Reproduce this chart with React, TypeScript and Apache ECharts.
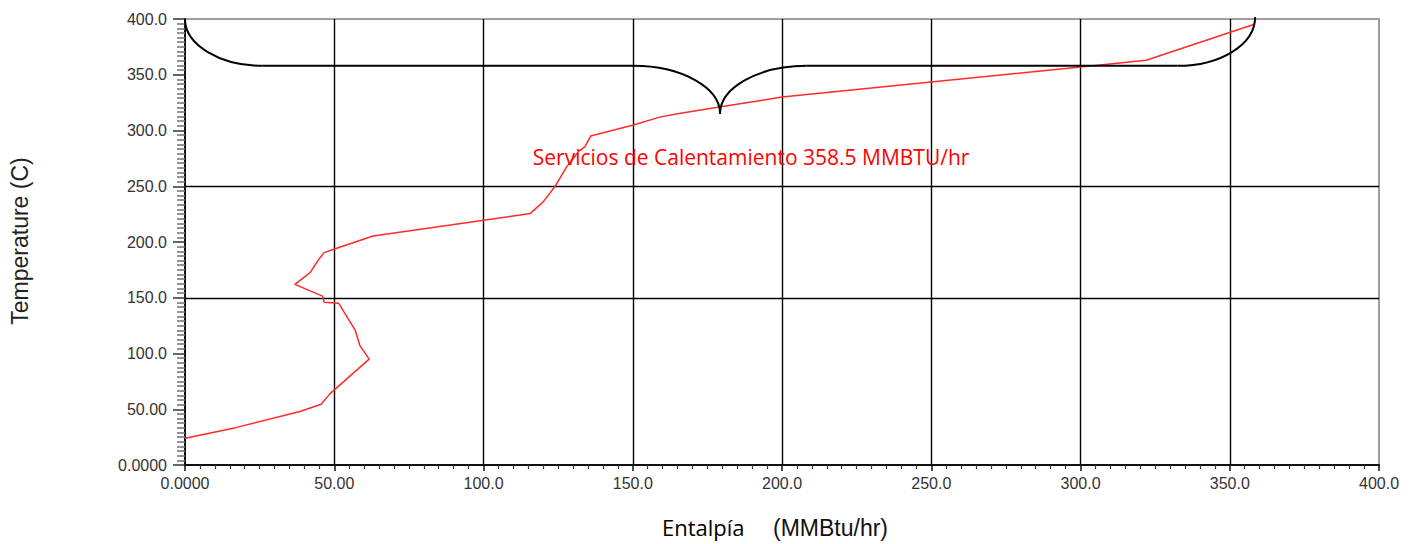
import React, { useEffect, useRef } from "react";
import * as echarts from "echarts";

// Composite curve: enthalpy (MMBtu/hr) against temperature (C)
const enthalpy: number[] = [
  0, 17, 38.5, 45.6, 48.6, 61.7, 58.6, 57, 51.5, 46.6, 46.1, 36.8, 41.9, 44.7,
  46.6, 50.3, 63, 115.6, 120, 124, 127.9, 131.8, 134, 135.9, 150.2, 159, 165,
  179, 200, 300, 322, 358.5,
];
const temperature: number[] = [
  24, 33.5, 48, 54.5, 64, 95, 107, 121, 145, 146, 151.5, 162, 172.5, 184,
  190.5, 194, 205.4, 225.5, 236, 250, 267.6, 281, 285.5, 295, 305, 312, 315,
  321, 330, 357, 363, 395.5,
];

// Heating utility duty, MMBtu/hr
const heatingDuty = 358.5;

const xTicks: number[] = [0, 50, 100, 150, 200, 250, 300, 350, 400];
const yTicks: number[] = [0, 50, 100, 150, 200, 250, 300, 350, 400];
const highlightedTemps: number[] = [150, 250];

const fmt = (v: number): string =>
  v === 0 ? "0.0000" : v < 100 ? v.toFixed(2) : v.toFixed(1);

const TICK_FONT = "'Liberation Sans', Arial, sans-serif";

export default function App() {
  const ref = useRef<HTMLDivElement>(null);

  useEffect(() => {
    if (!ref.current) return;
    const chart = echarts.init(ref.current, undefined, { renderer: "svg" });

    chart.setOption({
      animation: false,
      backgroundColor: "#ffffff",
      grid: {
        left: 185,
        right: 40,
        top: 19,
        bottom: 79,
        show: true,
        borderColor: "#808080",
        borderWidth: 1.5,
        backgroundColor: "transparent",
      },
      xAxis: {
        type: "value",
        min: xTicks[0],
        max: xTicks[xTicks.length - 1],
        interval: 50,
        axisLine: { show: true, onZero: false, lineStyle: { color: "#111", width: 2 } },
        axisTick: { show: true, length: 6, lineStyle: { color: "#111", width: 1.5 } },
        minorTick: { show: true, splitNumber: 10, length: 4, lineStyle: { color: "#333", width: 1.2 } },
        splitLine: {
          show: true,
          showMinLine: false,
          showMaxLine: false,
          lineStyle: { color: "#000", width: 1.4 },
        },
        axisLabel: {
          margin: 10,
          color: "#333",
          fontFamily: TICK_FONT,
          fontSize: 16,
          formatter: (v: number) => fmt(v),
        },
      },
      yAxis: {
        type: "value",
        min: yTicks[0],
        max: yTicks[yTicks.length - 1],
        interval: 50,
        axisLine: { show: true, onZero: false, lineStyle: { color: "#111", width: 2 } },
        axisTick: { show: true, length: 12, lineStyle: { color: "#333", width: 1.5 } },
        minorTick: { show: true, splitNumber: 12, length: 8, lineStyle: { color: "#777", width: 1.6 } },
        splitLine: { show: false },
        axisLabel: {
          margin: 18,
          color: "#333",
          fontFamily: TICK_FONT,
          fontSize: 16,
          formatter: (v: number) => fmt(v),
        },
      },
      series: [
        {
          type: "line",
          data: enthalpy.map((x, i) => [x, temperature[i]]),
          showSymbol: false,
          symbol: "none",
          lineStyle: { color: "#ff2a2a", width: 1.5 },
          z: 5,
          silent: true,
          markLine: {
            silent: true,
            symbol: ["none", "none"],
            label: { show: false },
            lineStyle: { color: "#000", width: 1.4, type: "solid" },
            data: highlightedTemps.map((t) => ({ yAxis: t })),
          },
        },
      ],
    });

    // Curly brace spanning the heating utility, plus labels and axis titles
    const px = (x: number, y: number): number[] =>
      chart.convertToPixel({ xAxisIndex: 0, yAxisIndex: 0 }, [x, y]) as number[];

    const yTop = 400;
    const yBar = 358;
    const yTip = 315;
    const endShoulder = 26;
    const midShoulder = 29;
    const mid = heatingDuty / 2;
    const k = 0.55;

    const pL = px(0, yTop);
    const pLs = px(endShoulder, yBar);
    const pMl = px(mid - midShoulder, yBar);
    const pTip = px(mid, yTip);
    const pMr = px(mid + midShoulder, yBar);
    const pRs = px(heatingDuty - endShoulder, yBar);
    const pR = px(heatingDuty, yTop);
    const barY = pLs[1];

    const braceStyle = { stroke: "#000", lineWidth: 2, fill: "none" };

    const braceParts = [
      {
        type: "bezierCurve",
        shape: {
          x1: pL[0], y1: pL[1],
          cpx1: pL[0], cpy1: pL[1] + k * (barY - pL[1]),
          cpx2: pLs[0] - k * (pLs[0] - pL[0]), cpy2: barY,
          x2: pLs[0], y2: barY,
        },
        style: braceStyle,
      },
      {
        type: "line",
        shape: { x1: pLs[0], y1: barY, x2: pMl[0], y2: barY },
        style: braceStyle,
      },
      {
        type: "bezierCurve",
        shape: {
          x1: pMl[0], y1: barY,
          cpx1: pMl[0] + k * (pTip[0] - pMl[0]), cpy1: barY,
          cpx2: pTip[0], cpy2: pTip[1] - k * (pTip[1] - barY),
          x2: pTip[0], y2: pTip[1],
        },
        style: braceStyle,
      },
      {
        type: "bezierCurve",
        shape: {
          x1: pTip[0], y1: pTip[1],
          cpx1: pTip[0], cpy1: pTip[1] - k * (pTip[1] - barY),
          cpx2: pMr[0] - k * (pMr[0] - pTip[0]), cpy2: barY,
          x2: pMr[0], y2: barY,
        },
        style: braceStyle,
      },
      {
        type: "line",
        shape: { x1: pMr[0], y1: barY, x2: pRs[0], y2: barY },
        style: braceStyle,
      },
      {
        type: "bezierCurve",
        shape: {
          x1: pRs[0], y1: barY,
          cpx1: pRs[0] + k * (pR[0] - pRs[0]), cpy1: barY,
          cpx2: pR[0], cpy2: pR[1] + k * (barY - pR[1]),
          x2: pR[0], y2: pR[1] - 2,
        },
        style: braceStyle,
      },
    ];

    const labelAnchor = px(116.5, 276);

    chart.setOption({
      graphic: [
        ...braceParts.map((p) => ({ ...p, silent: true, z: 10 })),
        {
          type: "text",
          x: labelAnchor[0],
          y: labelAnchor[1],
          z: 11,
          style: {
            text: `Servicios de Calentamiento ${heatingDuty} MMBTU/hr`,
            fill: "#ff0000",
            font: "21px 'Open Sans', sans-serif",
            align: "left",
            verticalAlign: "middle",
          },
        },
        {
          type: "text",
          x: 20,
          y: 241,
          rotation: Math.PI / 2,
          style: {
            text: "Temperature (C)",
            fill: "#222",
            font: "23px 'Liberation Sans', Arial, sans-serif",
            align: "center",
            verticalAlign: "middle",
          },
        },
        {
          type: "text",
          x: 662,
          y: 527,
          style: {
            text: "Entalpía",
            fill: "#000",
            font: "22px 'Open Sans', sans-serif",
            align: "left",
            verticalAlign: "middle",
          },
        },
        {
          type: "text",
          x: 773,
          y: 528,
          style: {
            text: "(MMBtu/hr)",
            fill: "#111",
            font: "23px 'Liberation Sans', Arial, sans-serif",
            align: "left",
            verticalAlign: "middle",
          },
        },
      ],
    });

    return () => chart.dispose();
  }, []);

  return (
    <div
      ref={ref}
      style={{ position: "fixed", left: 0, top: 0, width: 1419, height: 544 }}
    />
  );
}
